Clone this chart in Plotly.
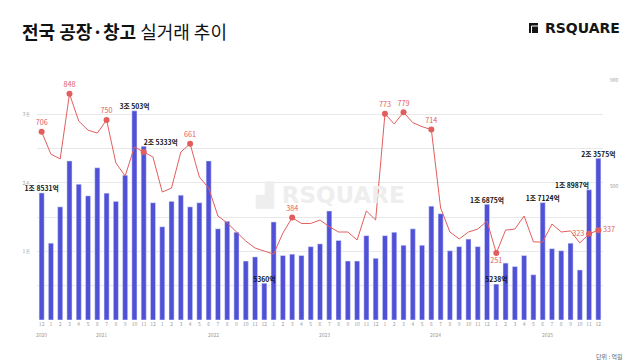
import plotly.graph_objects as go

# ---- data ----
years = [2020] + [2021]*12 + [2022]*12 + [2023]*12 + [2024]*12 + [2025]*12
months = [12] + list(range(1, 13))*5

# 거래금액 (억원)
amount = [18531,
          11200, 16500, 23200, 19800, 18100, 22200, 18500, 17300, 21100, 30503, 25333, 17100,
          13600, 17300, 18200, 16500, 17100, 23200, 13300, 14400, 12800, 8600, 9200, 5360,
          14300, 9400, 9600, 9400, 10700, 11100, 15900, 11600, 8600, 8600, 12300, 9000,
          12300, 12800, 10900, 13300, 10900, 16600, 15500, 10100, 10700, 11800, 10700, 16875,
          5238, 8300, 7800, 9400, 6600, 17124, 10400, 10100, 11200, 7300, 18987, 23575]

# 거래건수
count = [706,
         622, 604, 848, 746, 712, 701, 750, 589, 540, 649, 630, 611,
         480, 495, 630, 661, 536, 495, 390, 364, 330, 296, 270, 259,
         247, 326, 384, 362, 362, 375, 350, 330, 330, 300, 409, 375,
         773, 735, 779, 740, 725, 714, 420, 330, 304, 330, 341, 371,
         251, 337, 341, 390, 293, 292, 360, 330, 334, 289, 323, 337]

# labelled bars: (year, month, text position)
bar_labels = [(2020, 12, "top center"), (2021, 10, "top center"), (2021, 11, "top right"),
              (2022, 12, "top center"), (2024, 12, "top center"), (2025, 1, "top center"),
              (2025, 6, "top center"), (2025, 11, "top left"), (2025, 12, "top center")]
# labelled line points: (year, month, text position, show text)
line_labels = [(2020, 12, "top center", True), (2021, 3, "top center", True),
               (2021, 7, "top center", True), (2021, 11, "top center", False),
               (2022, 4, "top center", True), (2023, 3, "top center", True),
               (2024, 1, "top center", True), (2024, 3, "top center", True),
               (2024, 6, "top center", True), (2025, 1, "bottom center", True),
               (2025, 11, "middle left", True), (2025, 12, "middle right", True)]

ytick_vals = [0, 5000, 10000, 15000, 20000, 25000, 30000, 35000]
ytick_text = ["", "", "1조", "", "2조", "", "3조", ""]
y2tick_vals = [500, 900]

BAR = "#5151D8"
RED = "#E25E5E"
FONT = "Noto Sans CJK KR"

idx = list(range(len(amount)))
pos = {(y, m): i for i, (y, m) in enumerate(zip(years, months))}


def won(v):
    jo, eok = divmod(v, 10000)
    return (f"{jo}조 {eok}억" if jo else f"{eok}억")


fig = go.Figure()
fig.add_trace(go.Bar(x=idx, y=amount, marker_color=BAR, width=0.55, yaxis="y",
                     hoverinfo="skip"))
fig.add_trace(go.Scatter(x=idx, y=count, mode="lines", line=dict(color=RED, width=1),
                         yaxis="y2", hoverinfo="skip"))

bi = [pos[(y, m)] for y, m, _ in bar_labels]
fig.add_trace(go.Scatter(x=bi, y=[amount[i] for i in bi], mode="text",
                         text=[won(amount[i]) for i in bi],
                         textposition=[p for _, _, p in bar_labels],
                         textfont=dict(family=FONT, size=6.8, color="#111", weight=700),
                         yaxis="y", cliponaxis=False, hoverinfo="skip"))

li = [pos[(y, m)] for y, m, _, _ in line_labels]
fig.add_trace(go.Scatter(x=li, y=[count[i] for i in li], mode="markers+text",
                         marker=dict(color=RED, size=6),
                         text=[str(count[i]) if s else "" for i, (_, _, _, s) in zip(li, line_labels)],
                         textposition=[p for _, _, p, _ in line_labels],
                         textfont=dict(family=FONT, size=7.2, color=RED),
                         yaxis="y2", cliponaxis=False, hoverinfo="skip"))

L, R, T, B = 37, 37, 80, 40
pw = 640 - L - R
ph = 360 - T - B


def px(x):
    return (x - L) / pw


def py(y):
    return (360 - B - y) / ph


annotations = []
# year labels centred under their months
for yr in sorted(set(years)):
    ii = [i for i, y in enumerate(years) if y == yr]
    annotations.append(dict(x=(ii[0] + ii[-1]) / 2, y=py(334), xref="x", yref="paper",
                            text=str(yr), showarrow=False, yanchor="middle",
                            font=dict(family=FONT, size=5, color="#9a9a9a")))
# watermark
annotations.append(dict(x=px(253), y=py(195), xref="paper", yref="paper",
                        text="<b>▟ RSQUARE</b>", xanchor="left", yanchor="middle",
                        showarrow=False, font=dict(family="DejaVu Sans", size=23, color="#eeeeee")))
# logo
annotations.append(dict(x=px(543), y=py(28), xref="paper", yref="paper", text="<b>RSQUARE</b>",
                        xanchor="left", yanchor="middle", showarrow=False,
                        font=dict(family="DejaVu Sans", size=14, color="#151515")))
# unit
annotations.append(dict(x=px(624), y=py(356), xref="paper", yref="paper", text="단위 : 억원",
                        xanchor="right", yanchor="middle", showarrow=False,
                        font=dict(family=FONT, size=6, color="#666")))

shapes = [
    dict(type="rect", xref="paper", yref="paper", x0=px(529), x1=px(538), y0=py(33), y1=py(23),
         fillcolor="#151515", line_width=0),
    dict(type="path", xref="paper", yref="paper",
         path=f"M {px(531.5)} {py(33)} L {px(531.5)} {py(26)} L {px(538)} {py(26)}",
         line=dict(color="white", width=1)),
]

fig.update_layout(
    width=640, height=360, autosize=False,
    margin=dict(l=L, r=R, t=T, b=B),
    paper_bgcolor="white", plot_bgcolor="white",
    showlegend=False,
    bargap=0.45,
    title=dict(text="<b>전국 공장·창고</b> 실거래 추이", x=22 / 640, y=1 - 33 / 360,
               xanchor="left", yanchor="middle", xref="container", yref="container",
               font=dict(family=FONT, size=18, color="#111")),
    xaxis=dict(tickvals=idx, ticktext=[str(m) for m in months], range=[-0.5, len(idx) - 0.5],
               tickangle=0, showgrid=False, zeroline=False, showline=False, ticks="",
               tickfont=dict(family=FONT, size=5, color="#9a9a9a")),
    yaxis=dict(range=[0, 35000], tickvals=ytick_vals, ticktext=ytick_text,
               showgrid=True, gridcolor="#e8e8e8", gridwidth=1, zeroline=False,
               showline=False, ticks="", ticklabelstandoff=6,
               tickfont=dict(family=FONT, size=5, color="#9a9a9a")),
    yaxis2=dict(range=[0, 900], tickvals=y2tick_vals, overlaying="y", side="right",
                showgrid=False, zeroline=False, showline=False, ticks="", ticklabelstandoff=6,
                tickfont=dict(family=FONT, size=5, color="#9a9a9a")),
    annotations=annotations,
    shapes=shapes,
)

fig.write_html("out.html", config={"displayModeBar": False},
               post_script="document.body.style.margin='0px';")
